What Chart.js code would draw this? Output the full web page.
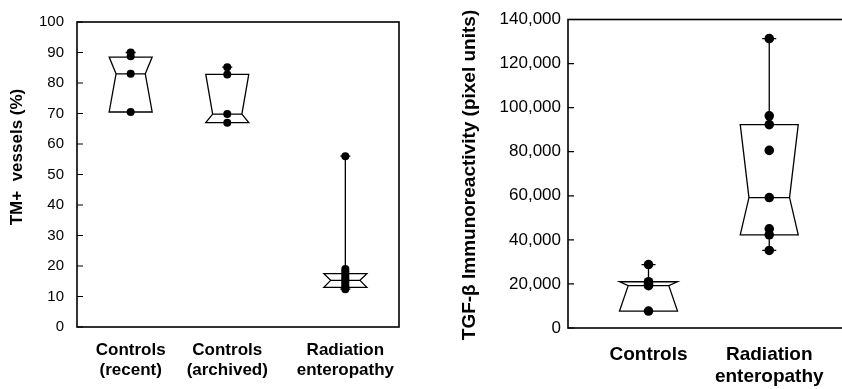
<!DOCTYPE html>
<html>
<head>
<meta charset="utf-8">
<script src="https://cdn.jsdelivr.net/npm/chart.js@4.4.1/dist/chart.umd.min.js"></script>
<style>
  html, body { margin: 0; padding: 0; background: #fff; overflow: hidden; width: 842px; height: 389px; }
  #left { position: absolute; left: 0; top: 0; }
  #right { position: absolute; left: 430px; top: 0; }
</style>
</head>
<body>
<canvas id="left" width="430" height="389"></canvas>
<canvas id="right" width="470" height="389"></canvas>
<script>
// left panel: TM+ vessels (%)
const tmGroups = [['Controls', '(recent)'], ['Controls', '(archived)'], ['Radiation', 'enteropathy']]
const tmPos = [1, 2.8, 5]
const tmQ1 = [70.5, 67, 13]
const tmMedian = [83, 69.8, 15.3]
const tmQ3 = [88.5, 82.8, 17.5]
const tmLow = [70.5, 67, 12.4]
const tmHigh = [90, 85.2, 56]
const tmPoints = [
  [90, 88.8, 83, 70.5],
  [85.2, 82.8, 69.8, 67],
  [56, 19, 18.3, 17.5, 16.7, 16, 15.3, 14.6, 13.8, 13, 12.4],
]

// right panel: TGF-beta immunoreactivity
const tgfGroups = ['Controls', ['Radiation', 'enteropathy']]
const tgfPos = [1, 2.5]
const tgfQ1 = [7700, 42300]
const tgfMedian = [19200, 59200]
const tgfQ3 = [21000, 92300]
const tgfLow = [7700, 35200]
const tgfHigh = [28800, 131300]
const tgfPoints = [
  [28800, 21000, 20000, 19200, 7700],
  [131300, 96300, 92300, 80600, 59200, 45000, 42300, 35200],
]

const FONT = "'Liberation Sans', Arial, Helvetica, sans-serif"

function toXY(pos, groups) {
  return groups.flatMap((vals, i) => vals.map(v => ({ x: pos[i], y: v })))
}

// notched boxes, whiskers and caps, drawn under the points
function boxPlugin(b, half, notch, capHalf) {
  return {
    id: 'notchBox',
    beforeDatasetsDraw(chart) {
      const { ctx, scales: { x, y } } = chart
      const narrow = half * notch
      ctx.save()
      ctx.strokeStyle = '#000'
      ctx.lineWidth = 1.3
      b.pos.forEach((p, i) => {
        const cx = x.getPixelForValue(p)
        const y1 = y.getPixelForValue(b.q1[i])
        const ym = y.getPixelForValue(b.median[i])
        const y3 = y.getPixelForValue(b.q3[i])
        ctx.beginPath()
        ctx.moveTo(cx - half, y3)
        ctx.lineTo(cx + half, y3)
        ctx.lineTo(cx + narrow, ym)
        ctx.lineTo(cx + half, y1)
        ctx.lineTo(cx - half, y1)
        ctx.lineTo(cx - narrow, ym)
        ctx.closePath()
        ctx.moveTo(cx - narrow, ym)
        ctx.lineTo(cx + narrow, ym)
        if (b.high[i] > b.q3[i]) {
          const yh = y.getPixelForValue(b.high[i])
          ctx.moveTo(cx, y3); ctx.lineTo(cx, yh)
          ctx.moveTo(cx - capHalf, yh); ctx.lineTo(cx + capHalf, yh)
        }
        if (b.low[i] < b.q1[i]) {
          const yl = y.getPixelForValue(b.low[i])
          ctx.moveTo(cx, y1); ctx.lineTo(cx, yl)
          ctx.moveTo(cx - capHalf, yl); ctx.lineTo(cx + capHalf, yl)
        }
        ctx.stroke()
      })
      ctx.restore()
    }
  }
}

// frame round the plot area, inward tick marks, rotated y title
function framePlugin(title, titleX, titleY, titleSize) {
  return {
    id: 'frame',
    afterDraw(chart) {
      const { ctx, chartArea: a, scales: { y } } = chart
      ctx.save()
      ctx.strokeStyle = '#000'
      ctx.lineWidth = 1.6
      ctx.strokeRect(a.left, a.top, a.right - a.left, a.bottom - a.top)
      ctx.lineWidth = 1.2
      ctx.beginPath()
      y.ticks.forEach(t => {
        const py = y.getPixelForValue(t.value)
        ctx.moveTo(a.left, py)
        ctx.lineTo(a.left + 6, py)
      })
      ctx.stroke()
      ctx.translate(titleX, titleY)
      ctx.rotate(-Math.PI / 2)
      ctx.fillStyle = '#000'
      ctx.font = `bold ${titleSize}px ${FONT}`
      ctx.textAlign = 'center'
      ctx.textBaseline = 'middle'
      ctx.fillText(title, 0, 0)
      ctx.restore()
    }
  }
}

function makeChart(id, o) {
  return new Chart(document.getElementById(id), {
    type: 'scatter',
    data: {
      datasets: [{
        data: o.data, pointRadius: o.dot, pointHoverRadius: o.dot,
        backgroundColor: '#000', borderColor: '#000', borderWidth: 0
      }]
    },
    options: {
      responsive: false, animation: false, events: [],
      layout: { padding: o.padding },
      plugins: { legend: { display: false }, tooltip: { enabled: false } },
      scales: {
        x: {
          type: 'linear', min: 0, max: o.xMax,
          grid: { display: false, drawTicks: false }, border: { display: false },
          afterBuildTicks: s => { s.ticks = o.pos.map(v => ({ value: v })) },
          afterFit: s => { s.height = o.xHeight },
          ticks: {
            autoSkip: false, maxRotation: 0, padding: o.xPad, color: '#000',
            font: { family: FONT, size: o.catSize, weight: 'bold' },
            callback: (v, i) => o.groups[i]
          }
        },
        y: {
          min: 0, max: o.yMax,
          grid: { display: false, drawTicks: false }, border: { display: false },
          afterFit: s => { s.width = o.yWidth },
          ticks: {
            stepSize: o.step, padding: o.yPad, color: '#000',
            font: { family: FONT, size: o.tickSize },
            callback: v => v.toLocaleString('en-US')
          }
        }
      }
    },
    plugins: [o.box, o.frame]
  })
}

makeChart('left', {
  data: toXY(tmPos, tmPoints), dot: 4, pos: tmPos, groups: tmGroups,
  padding: { top: 19, right: 31, left: 0, bottom: 0 },
  xMax: 6, xHeight: 62, xPad: 13, catSize: 17,
  yMax: 100, step: 10, yWidth: 77, yPad: 13, tickSize: 15,
  box: boxPlugin({ pos: tmPos, q1: tmQ1, median: tmMedian, q3: tmQ3, low: tmLow, high: tmHigh }, 21.5, 0.68, 5),
  frame: framePlugin('TM+  vessels (%)', 17, 157, 17)
})

makeChart('right', {
  data: toXY(tgfPos, tgfPoints), dot: 4.8, pos: tgfPos, groups: tgfGroups,
  padding: { top: 19.5, right: 10, left: 0, bottom: 0 },
  xMax: 4, xHeight: 61, xPad: 15, catSize: 19,
  yMax: 140000, step: 20000, yWidth: 138, yPad: 7, tickSize: 17,
  box: boxPlugin({ pos: tgfPos, q1: tgfQ1, median: tgfMedian, q3: tgfQ3, low: tgfLow, high: tgfHigh }, 29, 0.7, 7),
  frame: framePlugin('TGF-β Immunoreactivity (pixel units)', 40, 175, 19)
})
</script>
</body>
</html>
